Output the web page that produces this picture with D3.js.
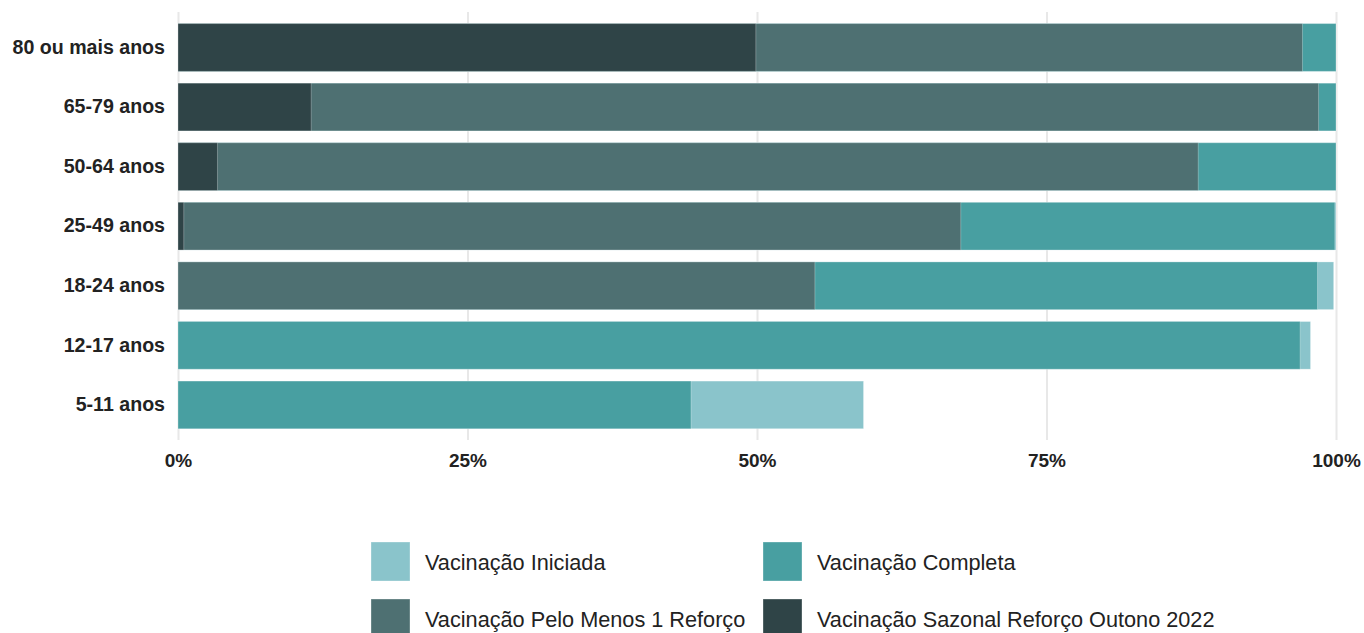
<!DOCTYPE html>
<html>
<head>
<meta charset="utf-8">
<script src="https://cdn.jsdelivr.net/npm/d3@7"></script>
<style>
  html, body { margin: 0; padding: 0; background: #fff; }
  svg { display: block; }
</style>
</head>
<body>
<svg id="chart" width="1364" height="633"></svg>
<script>
// ---- Data (coverage %, each level a subset of the previous) ----
const categories = ["80 ou mais anos", "65-79 anos", "50-64 anos", "25-49 anos", "18-24 anos", "12-17 anos", "5-11 anos"];
const seriesNames = ["Vacinação Iniciada", "Vacinação Completa", "Vacinação Pelo Menos 1 Reforço", "Vacinação Sazonal Reforço Outono 2022"];
const iniciada = [100, 100, 100, 100, 99.8, 97.8, 59.2];
const completa = [100, 100, 100, 99.9, 98.4, 96.9, 44.3];
const reforco  = [97.1, 98.5, 88.1, 67.6, 55.0, 0, 0];
const sazonal  = [49.9, 11.5, 3.4, 0.5, 0, 0, 0];
const xTicks = [0, 25, 50, 75, 100];
const colors = ["#8AC4CB", "#489FA1", "#4E7072", "#2F4447"];

const seriesValues = [iniciada, completa, reforco, sazonal];

const svg = d3.select("#chart");
const font = "'Liberation Sans', Arial, Helvetica, sans-serif";

const x = d3.scaleLinear().domain([0, 100]).range([178, 1336]);
const y = d3.scaleBand().domain(categories).range([17.7, 434.7]).paddingInner(0.2).paddingOuter(0.1);

// gridlines
const grid = svg.append("g").attr("transform", "translate(0,440)")
  .call(d3.axisBottom(x).tickValues(xTicks).tickSize(-428).tickFormat(""));
grid.select(".domain").remove();
grid.selectAll(".tick line").attr("stroke", "#e8e8e8").attr("stroke-width", 2);

// bars (overlaid from 0)
seriesValues.forEach((vals, si) => {
  svg.append("g").selectAll("rect")
    .data(categories.map((c, i) => ({ c, v: vals[i] })).filter(d => d.v > 0))
    .join("rect")
    .attr("x", x(0))
    .attr("y", d => y(d.c))
    .attr("width", d => x(d.v) - x(0))
    .attr("height", y.bandwidth())
    .attr("fill", colors[si])
    .attr("stroke", "rgba(255,255,255,0.35)")
    .attr("stroke-width", 0.8);
});

// x axis labels
const xa = svg.append("g").attr("transform", "translate(0,467)")
  .call(d3.axisBottom(x).tickValues(xTicks).tickSize(0).tickPadding(0).tickFormat(d => d + "%"));
xa.select(".domain").remove();
xa.selectAll("text")
  .attr("dy", 0).attr("y", 0)
  .attr("font-family", font).attr("font-size", 19).attr("font-weight", "bold").attr("fill", "#222");

// y axis labels
const ya = svg.append("g").attr("transform", "translate(178,0)")
  .call(d3.axisLeft(y).tickSize(0).tickPadding(13));
ya.select(".domain").remove();
ya.selectAll("text")
  .attr("font-family", font).attr("font-size", 19.6).attr("font-weight", "bold").attr("fill", "#222");

// legend
const legendPos = [[371, 542], [763, 542], [371, 599], [763, 599]];
const lg = svg.append("g").selectAll("g")
  .data(seriesNames)
  .join("g")
  .attr("transform", (d, i) => `translate(${legendPos[i][0]},${legendPos[i][1]})`);
lg.append("rect").attr("width", 39).attr("height", 39)
  .attr("fill", (d, i) => colors[i])
  .attr("stroke", "rgba(255,255,255,0.4)").attr("stroke-width", 0.8);
lg.append("text").attr("x", 54).attr("y", 28)
  .attr("font-family", font).attr("font-size", 21.7).attr("fill", "#222")
  .text(d => d);
</script>
</body>
</html>
